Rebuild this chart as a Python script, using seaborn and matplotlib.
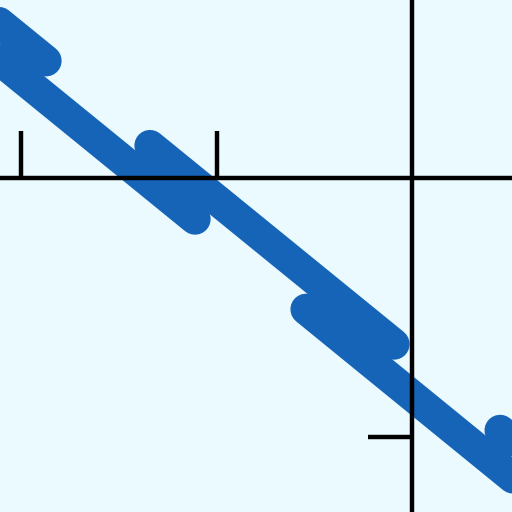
import matplotlib
matplotlib.use("Agg")
import matplotlib.pyplot as plt
import seaborn as sns
import pandas as pd

# Staircase segments of the thick line (start/end points in data units)
segment = ["s0", "s0", "s1", "s1", "s2", "s2", "s3", "s3", "s4", "s4"]
seg_x = [-2.213, -1.874, -2.213, -1.110, -1.341, -0.090, -0.541, 0.659, 0.454, 0.659]
seg_y = [0.656, 0.449, 0.514, -0.160, 0.123, -0.641, -0.507, -1.241, -0.973, -1.099]

x_ticks = [-2, -1]
y_ticks = [-1]

x_limits = [-2.110, 0.515]
y_limits = [-1.287, 0.683]

line_color = "#1664B8"
bg_color = "#EBFAFE"

df = pd.DataFrame({"x": seg_x, "y": seg_y, "segment": segment})

sns.set_theme(style="white")
fig = plt.figure(figsize=(5.12, 5.12), dpi=100, facecolor=bg_color)
ax = fig.add_axes([0, 0, 1, 1])
ax.set_facecolor(bg_color)

sns.lineplot(data=df, x="x", y="y", units="segment", estimator=None, sort=False,
             color=line_color, linewidth=22.5, solid_capstyle="round", ax=ax,
             legend=False, zorder=1)

ax.set_xlim(*x_limits)
ax.set_ylim(*y_limits)
ax.set_xlabel("")
ax.set_ylabel("")

for s in ["top", "right"]:
    ax.spines[s].set_visible(False)
ax.spines["bottom"].set_position(("data", 0))
ax.spines["left"].set_position(("data", 0))
for s in ["bottom", "left"]:
    ax.spines[s].set_color("black")
    ax.spines[s].set_linewidth(3.2)
    ax.spines[s].set_zorder(5)
ax.set_axisbelow(False)

ax.set_xticks(x_ticks)
ax.set_yticks(y_ticks)
ax.tick_params(axis="x", direction="in", length=34, width=3.2, color="black",
               labelbottom=False, bottom=True)
ax.tick_params(axis="y", direction="out", length=32, width=3.2, color="black",
               labelleft=False, left=True)

fig.savefig("out.png", dpi=100, facecolor=bg_color)
